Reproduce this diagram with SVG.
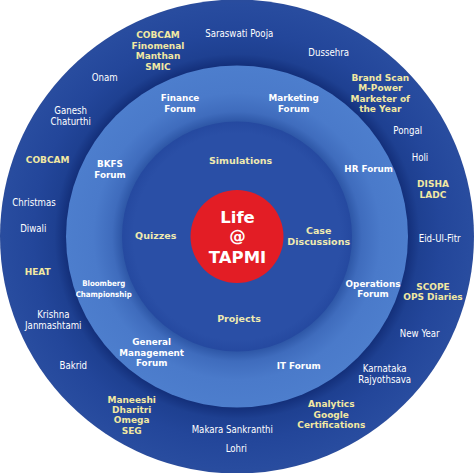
<svg xmlns="http://www.w3.org/2000/svg" width="474" height="473" viewBox="0 0 474 473">
<defs>
<radialGradient id="gOuter" gradientUnits="userSpaceOnUse" cx="237" cy="236.5" r="237">
<stop offset="0.72" stop-color="#132f7a"/>
<stop offset="0.77" stop-color="#1e4091"/>
<stop offset="0.86" stop-color="#23469a"/>
<stop offset="0.985" stop-color="#284c9f"/>
<stop offset="1" stop-color="#2a4c9c"/>
</radialGradient>
<radialGradient id="gMid" gradientUnits="userSpaceOnUse" cx="237" cy="236.5" r="171">
<stop offset="0.67" stop-color="#2d56a6"/>
<stop offset="0.73" stop-color="#3f6cbd"/>
<stop offset="0.84" stop-color="#4a7aca"/>
<stop offset="1" stop-color="#4d7ecd"/>
</radialGradient>
<radialGradient id="gInner" gradientUnits="userSpaceOnUse" cx="237" cy="236.5" r="115">
<stop offset="0.9" stop-color="#2a4fa6"/>
<stop offset="1" stop-color="#2549a0"/>
</radialGradient>
<style>
text{text-anchor:middle;}
.w{font-family:"DejaVu Sans Condensed","DejaVu Sans",sans-serif;font-stretch:condensed;font-size:9.6px;fill:#ffffff;}
.y{font-family:"DejaVu Sans",sans-serif;font-weight:bold;font-size:9px;fill:#f1e8a2;}
.f{font-family:"DejaVu Sans",sans-serif;font-weight:bold;font-size:8.8px;fill:#ffffff;}
.c{font-family:"DejaVu Sans",sans-serif;font-weight:bold;font-size:9.5px;fill:#efeab0;}
.bc{font-family:"DejaVu Sans Condensed","DejaVu Sans",sans-serif;font-stretch:condensed;font-weight:bold;font-size:7.8px;fill:#ffffff;}
.r{font-family:"DejaVu Sans",sans-serif;font-weight:bold;font-size:16.5px;fill:#ffffff;}
</style>
</defs>
<rect width="474" height="473" fill="#ffffff"/>
<g id="rings">
<circle id="outer-ring" cx="237" cy="236.5" r="237" fill="url(#gOuter)"/>
<circle id="middle-ring" cx="237" cy="236.5" r="171" fill="url(#gMid)"/>
<circle id="inner-circle" cx="237" cy="236.5" r="115" fill="url(#gInner)"/>
</g>
<g id="connectors"></g>
<g id="center">
<circle cx="237" cy="236.5" r="46.5" fill="#e31d25"/>
<text class="r" x="237.5" y="223">Life</text>
<text class="r" x="237.5" y="242">@</text>
<text class="r" x="237.5" y="262.7">TAPMI</text>
</g>
<g id="inner-labels">
<text class="c" x="240.5" y="164.3">Simulations</text>
<text class="c" x="155.7" y="239.3">Quizzes</text>
<text class="c" x="318.7" y="234">Case</text>
<text class="c" x="318.7" y="245">Discussions</text>
<text class="c" x="239" y="322.3">Projects</text>
</g>
<g id="forums">
<g id="finance"><text class="f" x="180" y="101.3">Finance</text><text class="f" x="180" y="111.6">Forum</text></g>
<g id="marketing"><text class="f" x="293.7" y="101.3">Marketing</text><text class="f" x="293.7" y="111.6">Forum</text></g>
<g id="hr"><text class="f" x="368.7" y="172.3">HR Forum</text></g>
<g id="operations"><text class="f" x="373" y="286.6">Operations</text><text class="f" x="373" y="297">Forum</text></g>
<g id="it"><text class="f" x="298.7" y="369.3">IT Forum</text></g>
<g id="gm"><text class="f" x="151.7" y="345.3">General</text><text class="f" x="151.7" y="355.6">Management</text><text class="f" x="151.7" y="366">Forum</text></g>
<g id="bloomberg"><text class="bc" x="103.7" y="286.3">Bloomberg</text><text class="bc" x="103.7" y="296.7">Championship</text></g>
<g id="bkfs"><text class="f" x="110" y="167.3">BKFS</text><text class="f" x="110" y="177.6">Forum</text></g>
</g>
<g id="outer-labels">
<g id="cobcam-top"><text class="y" x="158" y="38.3">COBCAM</text><text class="y" x="158" y="48.9">Finomenal</text><text class="y" x="158" y="59.3">Manthan</text><text class="y" x="158" y="69.6">SMIC</text></g>
<text class="w" x="239.3" y="36.6">Saraswati Pooja</text>
<text class="w" x="328.7" y="55.6">Dussehra</text>
<g id="brandscan"><text class="y" x="380.3" y="81">Brand Scan</text><text class="y" x="380.3" y="91.3">M-Power</text><text class="y" x="380.3" y="102">Marketer of</text><text class="y" x="380.3" y="112.3">the Year</text></g>
<text class="w" x="407.7" y="134">Pongal</text>
<text class="w" x="420" y="160.6">Holi</text>
<g id="disha"><text class="y" x="433" y="187.3">DISHA</text><text class="y" x="433" y="197.6">LADC</text></g>
<text class="w" x="439.7" y="242">Eid-Ul-Fitr</text>
<g id="scope"><text class="y" x="433" y="290">SCOPE</text><text class="y" x="433" y="300.3">OPS Diaries</text></g>
<text class="w" x="419.7" y="336.6">New Year</text>
<g id="karnataka"><text class="w" x="384.7" y="372.3">Karnataka</text><text class="w" x="384.7" y="383">Rajyothsava</text></g>
<g id="analytics"><text class="y" x="331.3" y="407.3">Analytics</text><text class="y" x="331.3" y="417.6">Google</text><text class="y" x="331.3" y="428.3">Certifications</text></g>
<text class="w" x="232.3" y="432.6">Makara Sankranthi</text>
<text class="w" x="236.3" y="451.6">Lohri</text>
<g id="maneeshi"><text class="y" x="131.7" y="402.6">Maneeshi</text><text class="y" x="131.7" y="413">Dharitri</text><text class="y" x="131.7" y="423.3">Omega</text><text class="y" x="131.7" y="433.6">SEG</text></g>
<text class="w" x="73.3" y="369.3">Bakrid</text>
<g id="krishna"><text class="w" x="53.3" y="317.6">Krishna</text><text class="w" x="53.3" y="329.3">Janmashtami</text></g>
<text class="y" x="37.7" y="275.3">HEAT</text>
<text class="w" x="33.3" y="232.3">Diwali</text>
<text class="w" x="34" y="206">Christmas</text>
<text class="y" x="47.7" y="162.6">COBCAM</text>
<g id="ganesh"><text class="w" x="70.7" y="113.6">Ganesh</text><text class="w" x="70.7" y="124.6">Chaturthi</text></g>
<text class="w" x="104.7" y="80.6">Onam</text>
</g>
</svg>
